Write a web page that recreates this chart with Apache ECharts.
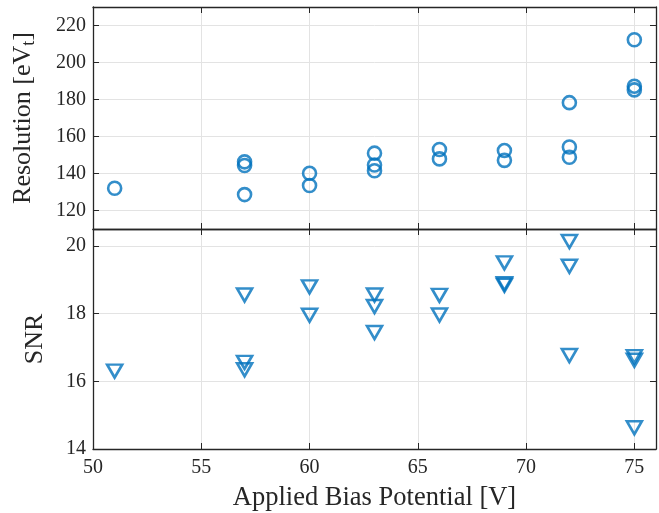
<!DOCTYPE html>
<html>
<head>
<meta charset="utf-8">
<script src="https://cdn.jsdelivr.net/npm/echarts@6/dist/echarts.min.js"></script>
<style>html,body{margin:0;padding:0;background:#fff}#c{width:659px;height:513px}</style>
</head>
<body>
<div id="c"></div>
<script>
// ---- data ----
const resX = [51, 57, 57, 57, 60, 60, 63, 63, 63, 66, 66, 69, 69, 72, 72, 72, 75, 75, 75];
const resY = [132, 146.3, 144.3, 128.6, 140.1, 133.5, 151, 144.6, 141.5, 153, 147.9, 152.4, 147.1, 178.3, 154.3, 148.8, 212.3, 187.2, 185.2];
const snrX = [51, 57, 57, 57, 60, 60, 63, 63, 63, 66, 66, 69, 69, 69, 72, 72, 72, 75, 75, 75];
const snrY = [16.3, 18.55, 16.56, 16.34, 18.79, 17.95, 18.55, 18.21, 17.44, 18.54, 17.96, 19.5, 18.88, 18.84, 20.13, 19.4, 16.76, 16.73, 16.62, 14.63];
const xTicks = [50, 55, 60, 65, 70, 75];
const resTicks = [120, 140, 160, 180, 200, 220];
const snrTicks = [14, 16, 18, 20];
const xTitle = 'Applied Bias Potential [V]';
const snrTitle = 'SNR';

const AX = '#262626';
const GRID = '#e3e3e3';
const BLUE = '#0072BD';
const FONT = 'Liberation Serif';

function xAx(gi, pos, labels, title) {
  return {
    type: 'value', gridIndex: gi, position: pos, min: 50, max: 76,
    axisLine: {show: true, onZero: false, lineStyle: {color: AX, width: 1.3}},
    axisTick: {show: true, inside: true, length: 6, customValues: xTicks, lineStyle: {color: AX}},
    axisLabel: {show: labels, customValues: xTicks, color: AX, fontFamily: FONT, fontSize: 20, margin: 9},
    splitLine: {show: pos === 'bottom', lineStyle: {color: GRID}},
    name: title || '', nameLocation: 'middle', nameGap: 36,
    nameTextStyle: {color: AX, fontFamily: FONT, fontSize: 26.5}
  };
}
function yAx(gi, pos, mn, mx, ticks, labels, name, gap) {
  return {
    type: 'value', gridIndex: gi, position: pos, min: mn, max: mx,
    axisLine: {show: true, onZero: false, lineStyle: {color: AX, width: 1.3}},
    axisTick: {show: true, inside: true, length: 6, customValues: ticks, lineStyle: {color: AX}},
    axisLabel: {show: labels, customValues: ticks, color: AX, fontFamily: FONT, fontSize: 20, margin: 7},
    splitLine: {show: pos === 'left', lineStyle: {color: GRID}},
    name: name || '', nameLocation: 'middle', nameGap: gap || 0,
    nameTextStyle: {color: AX, fontFamily: FONT, fontSize: 26, rich: {
      a: {fontFamily: FONT, fontSize: 26, color: AX, lineHeight: 30, verticalAlign: 'middle'},
      s: {fontFamily: FONT, fontSize: 18, color: AX, lineHeight: 18, verticalAlign: 'bottom'}
    }}
  };
}

const chart = echarts.init(document.getElementById('c'), null, {renderer: 'canvas'});
chart.setOption({
  animation: false,
  backgroundColor: '#fff',
  grid: [
    {left: 93, right: 3, top: 7, height: 222},
    {left: 93, right: 3, top: 229, height: 221}
  ],
  xAxis: [
    xAx(0, 'bottom', false), xAx(0, 'top', false),
    xAx(1, 'bottom', true, xTitle), xAx(1, 'top', false)
  ],
  yAxis: [
    yAx(0, 'left', 110, 230, resTicks, true, '{a|Resolution [eV}{s|t}{a|]}', 55),
    yAx(0, 'right', 110, 230, resTicks, false),
    yAx(1, 'left', 14, 20.5, snrTicks, true, snrTitle, 45),
    yAx(1, 'right', 14, 20.5, snrTicks, false)
  ],
  series: [
    {
      type: 'scatter', xAxisIndex: 0, yAxisIndex: 0,
      data: resX.map((x, i) => [x, resY[i]]),
      symbol: 'circle', symbolSize: 13,
      itemStyle: {color: 'none', borderColor: BLUE, borderWidth: 2.6}
    },
    {
      type: 'scatter', xAxisIndex: 2, yAxisIndex: 2,
      data: snrX.map((x, i) => [x, snrY[i]]),
      symbol: 'triangle', symbolRotate: 180, symbolSize: [15, 13],
      itemStyle: {color: 'none', borderColor: BLUE, borderWidth: 2.6}
    }
  ]
});
</script>
</body>
</html>
